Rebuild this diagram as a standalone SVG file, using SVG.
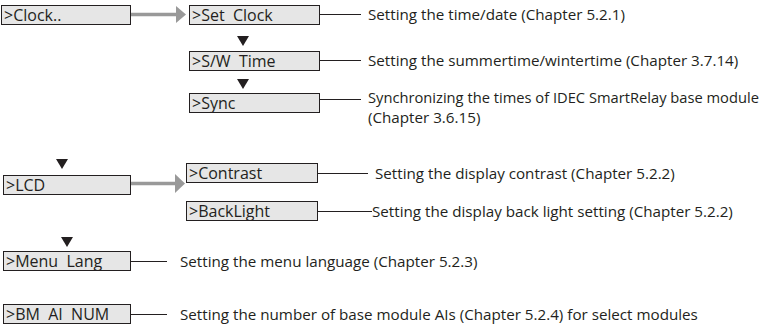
<svg xmlns="http://www.w3.org/2000/svg" width="767" height="326" viewBox="0 0 767 326">
<style>
.box{fill:#e6e6e6;stroke:#231f20;stroke-width:1}
.lbl{font-family:"Open Sans","Liberation Sans",sans-serif;font-size:16px;fill:#231f20;white-space:pre}
.txt{font-family:"Open Sans","Liberation Sans",sans-serif;font-size:15.2px;fill:#231f20;white-space:pre}
.ln{stroke:#231f20;stroke-width:1.2;fill:none}
.ga{stroke:#999;stroke-width:3.5;fill:none}
.gh{fill:#999}
.tri{fill:#231f20}
</style>
<rect width="767" height="326" fill="#fff"/>
<g id="connectors">
<line class="ga" x1="131" y1="14.5" x2="177" y2="14.5"/>
<polygon class="gh" points="176,6 186,14.5 176,23"/>
<line class="ga" x1="131" y1="183.5" x2="176" y2="183.5"/>
<polygon class="gh" points="175,174 185,183.5 175,193"/>
<polygon class="tri" points="237,36 249,36 243,46"/>
<polygon class="tri" points="237,79 249,79 243,89"/>
<polygon class="tri" points="56,159 68,159 62,169"/>
<polygon class="tri" points="61,237 73,237 67,247"/>
<line class="ln" x1="320" y1="14.5" x2="361" y2="14.5"/>
<line class="ln" x1="320" y1="60.5" x2="361" y2="60.5"/>
<line class="ln" x1="320" y1="99.5" x2="361" y2="99.5"/>
<line class="ln" x1="318" y1="173.5" x2="368" y2="173.5"/>
<line class="ln" x1="318" y1="211.5" x2="372" y2="211.5"/>
<line class="ln" x1="131" y1="261.5" x2="167" y2="261.5"/>
<line class="ln" x1="131" y1="314.5" x2="167" y2="314.5"/>
</g>
<g id="clock"><rect class="box" x="1.5" y="5.5" width="129" height="19"/><text class="lbl" x="4" y="20.5">&gt;Clock..</text></g>
<g id="setclock"><rect class="box" x="189.5" y="5.5" width="130" height="19"/><text class="lbl" x="192" y="20.5">&gt;Set  Clock</text><text class="txt" x="368" y="20">Setting the time/date (Chapter 5.2.1)</text></g>
<g id="swtime"><rect class="box" x="189.5" y="51.5" width="130" height="19"/><text class="lbl" x="192" y="66.5">&gt;S/W  Time</text><text class="txt" x="368" y="66">Setting the summertime/wintertime (Chapter 3.7.14)</text></g>
<g id="sync"><rect class="box" x="189.5" y="93.5" width="130" height="19"/><text class="lbl" x="192" y="108.5">&gt;Sync</text><text class="txt" x="368" y="103" style="font-size:14.7px">Synchronizing the times of IDEC SmartRelay base module</text><text class="txt" x="368" y="123">(Chapter 3.6.15)</text></g>
<g id="lcd"><rect class="box" x="3.5" y="175.5" width="127" height="19"/><text class="lbl" x="6" y="190.5">&gt;LCD</text></g>
<g id="contrast"><rect class="box" x="186.5" y="163.5" width="131" height="19"/><text class="lbl" x="189" y="178.5">&gt;Contrast</text><text class="txt" x="375" y="179">Setting the display contrast (Chapter 5.2.2)</text></g>
<g id="backlight"><rect class="box" x="186.5" y="201.5" width="131" height="19"/><text class="lbl" x="189" y="216.5">&gt;BackLight</text><text class="txt" x="372" y="217">Setting the display back light setting (Chapter 5.2.2)</text></g>
<g id="menulang"><rect class="box" x="3.5" y="251.5" width="127" height="19"/><text class="lbl" x="6" y="266.5">&gt;Menu  Lang</text><text class="txt" x="180" y="267">Setting the menu language (Chapter 5.2.3)</text></g>
<g id="bmainum"><rect class="box" x="3.5" y="304.5" width="127" height="19"/><text class="lbl" x="6" y="319.5">&gt;BM  AI  NUM</text><text class="txt" x="180" y="320">Setting the number of base module AIs (Chapter 5.2.4) for select modules</text></g>
</svg>
